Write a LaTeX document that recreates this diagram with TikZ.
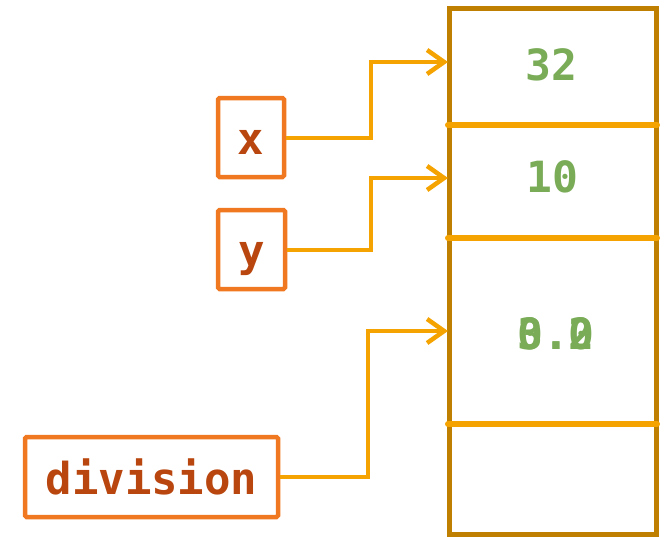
\documentclass[tikz,border=0pt]{standalone}
\usepackage{fontspec}
\setmonofont{DejaVu Sans Mono}
\usetikzlibrary{arrows.meta}
\definecolor{varedge}{RGB}{240,120,32}
\definecolor{vartext}{RGB}{185,70,14}
\definecolor{wire}{RGB}{245,163,0}
\definecolor{cellframe}{RGB}{191,127,0}
\definecolor{cellval}{RGB}{122,172,88}
\begin{document}
\begin{tikzpicture}[x=1pt,y=-1pt,
  varbox/.style={draw=varedge,line width=4.5pt,rounded corners=1.5pt,fill=white,
    font=\ttfamily\bfseries\fontsize{44}{44}\selectfont,text=vartext,
    inner sep=0pt,text height=34pt,text depth=0pt},
  cellvalue/.style={font=\ttfamily\bfseries\fontsize{43}{43}\selectfont,text=cellval,
    inner sep=0pt,anchor=base},
  wirearrow/.style={draw=wire,line width=4pt,
    -{Straight Barb[length=17pt,width=24pt,line width=4.5pt]}},
  divider/.style={draw=wire,line width=6pt,line cap=round}]
\useasboundingbox (0,0) rectangle (664,536);

% memory column
\draw[cellframe,line width=5pt] (449,8) rectangle (656,534);
\draw[divider] (448,125) -- (657,125);
\draw[divider] (448,238) -- (657,238);
\draw[divider] (448,424) -- (657,424);

% entry points on the left side of the cells
\coordinate (c1) at (448,62);
\coordinate (c2) at (448,178);
\coordinate (c3) at (448,331);

% stored values
\node[cellvalue] (v1) at (551.5,80) {32};
\node[cellvalue] (v2) at (552,192) {10};
\node[cellvalue] (v3a) at (556,349) {3.2};
\node[cellvalue] (v3b) at (556,349) {0.0};

% variable names
\node[varbox,minimum width=66pt,minimum height=79pt] (x) at (251,137.5) {x};
\node[varbox,minimum width=67pt,minimum height=79pt] (y) at (251.5,249.5) {y};
\node[varbox,minimum width=253pt,minimum height=80pt] (division) at (151.5,477) {division};

% references
\draw[wirearrow] (x.east) -- ++(85,0) |- (c1);
\draw[wirearrow] (y.east) -- ++(84,0) |- (c2);
\draw[wirearrow] (division.east) -- ++(88,0) |- (c3);
\end{tikzpicture}
\end{document}
